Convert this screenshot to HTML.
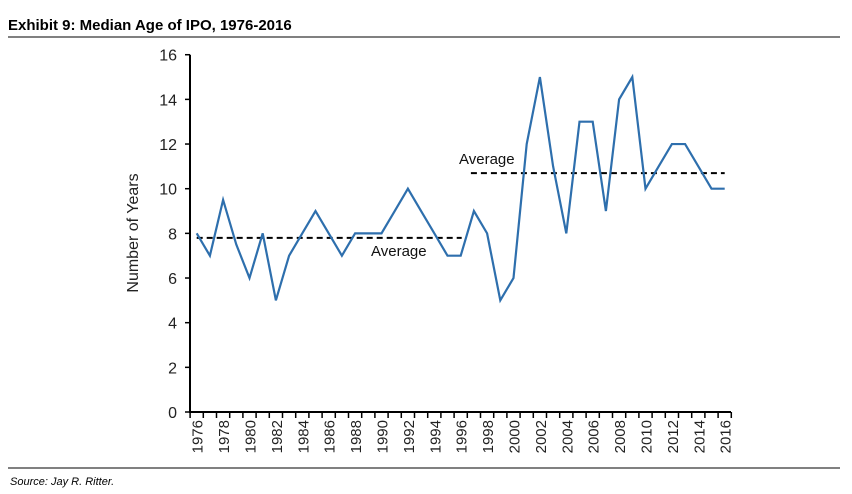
<!DOCTYPE html>
<html><head><meta charset="utf-8"><style>
body{margin:0;background:#fff;font-family:"Liberation Sans",sans-serif;}
svg{display:block}
</style></head><body>
<svg width="852" height="494">
<text x="8" y="30" font-size="15" font-weight="bold">Exhibit 9: Median Age of IPO, 1976-2016</text>
<line x1="8" y1="37" x2="840" y2="37" stroke="#000" stroke-width="1"/>
<line x1="8" y1="468" x2="840" y2="468" stroke="#000" stroke-width="1"/>
<text x="10" y="485" font-size="11" font-style="italic">Source: Jay R. Ritter.</text>
<text transform="translate(138,233) rotate(-90)" text-anchor="middle" font-size="16" fill="#222">Number of Years</text>
<g id="g"></g>
</svg>
<script>
const years=[];for(let y=1976;y<=2016;y++)years.push(y);
const values=[8,7,9.5,7.5,6,8,5,7,8,9,8,7,8,8,8,9,10,9,8,7,7,9,8,5,6,12,15,11,8,13,13,9,14,15,10,11,12,12,11,10,10];
const yTicks=[0,2,4,6,8,10,12,14,16];
const avg1=7.8, avg1Range=[1976,1996];
const avg2=10.7, avg2Range=[1997,2016];
const NS='http://www.w3.org/2000/svg';
const g=document.getElementById('g');
const X=yr=>196.7+(yr-1976)*13.2;
const Y=v=>412-v*22.33;
function mk(t,a){const e=document.createElementNS(NS,t);for(const k in a)e.setAttribute(k,a[k]);g.appendChild(e);return e;}
let e;
e=mk('line',{x1:190,y1:Y(16),x2:190,y2:412,stroke:'#000','stroke-width':2});


e=mk('line',{x1:189,y1:412,x2:731,y2:412,stroke:'#000','stroke-width':2});


yTicks.forEach(v=>{
 e=mk('line',{x1:185,y1:Y(v),x2:190,y2:Y(v),stroke:'#000','stroke-width':1.5});
 
 
 e=mk('text',{x:177,y:Y(v)+6,'text-anchor':'end','font-size':16,fill:'#222'});e.textContent=v;
 
 
});
for(let i=0;i<=years.length;i++){
 const x=X(1976)-6.6+i*13.2;
 e=mk('line',{x1:x,y1:412,x2:x,y2:418,stroke:'#000','stroke-width':1.5});
 
 
}
years.forEach(yr=>{if(yr%2)return;
 e=mk('text',{transform:`translate(${X(yr)+6},420) rotate(-90)`,'text-anchor':'end','font-size':15,fill:'#222'});e.textContent=yr;
 
 
});
e=mk('line',{x1:X(avg1Range[0]),y1:Y(avg1),x2:X(avg1Range[1])+1,y2:Y(avg1),stroke:'#000','stroke-width':2,'stroke-dasharray':'6,4'});


e=mk('line',{x1:X(avg2Range[0])-3,y1:Y(avg2),x2:X(avg2Range[1]),y2:Y(avg2),stroke:'#000','stroke-width':2,'stroke-dasharray':'6,4'});


e=mk('text',{x:371,y:256,'font-size':15,fill:'#111'});e.textContent='Average';


e=mk('text',{x:459,y:164,'font-size':15,fill:'#111'});e.textContent='Average';


e=mk('polyline',{points:values.map((v,i)=>X(years[i])+','+Y(v)).join(' '),fill:'none',stroke:'#2e6fad','stroke-width':2.2,'stroke-linejoin':'miter'});


</script>
</body></html>
